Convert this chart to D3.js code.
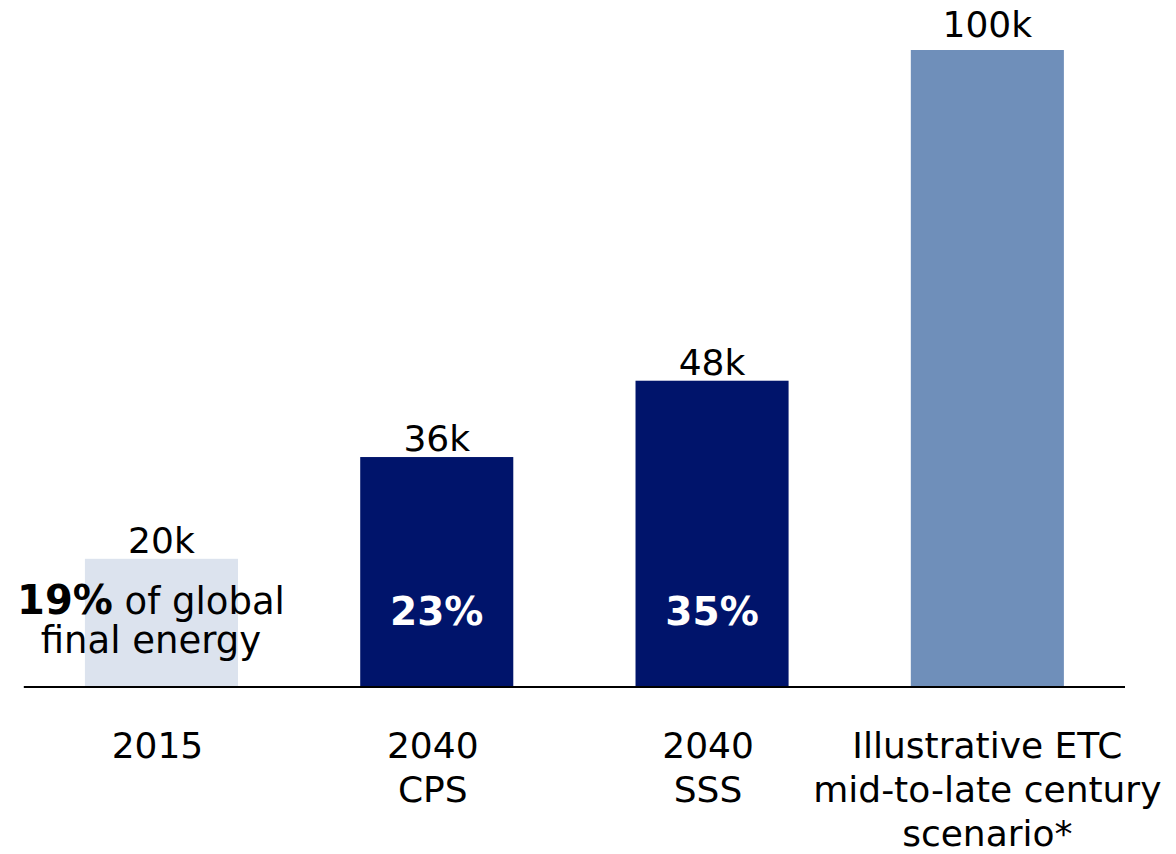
<!DOCTYPE html>
<html>
<head>
<meta charset="utf-8">
<script src="https://cdn.jsdelivr.net/npm/d3@7"></script>
<style>
  body { margin: 0; background: #fff; }
  svg { display: block; font-family: "DejaVu Sans", Verdana, sans-serif; }
</style>
</head>
<body>
<svg width="1176" height="854"></svg>
<script>
// values in thousands
var categories = ['2015', '2040 CPS', '2040 SSS', 'ETC'];
var values = [20, 36, 48, 100];
var valueLabels = ['20k', '36k', '48k', '100k'];
var shareLabels = ['19%', '23%', '35%', null];
var catLines = [
  ['2015'],
  ['2040', 'CPS'],
  ['2040', 'SSS'],
  ['Illustrative ETC', 'mid-to-late century', 'scenario*']
];
var colors = ['#dce3ee', '#00146b', '#00146b', '#6f8fba'];

var svg = d3.select('svg');
var base = 686;

var x = d3.scaleBand()
  .domain(categories)
  .range([23.8, 1125])
  .paddingInner(0.444)
  .paddingOuter(0.222);

var y = d3.scaleLinear()
  .domain([0, 100])
  .range([base, 50]);

var maxVal = d3.max(values);

svg.selectAll('rect.bar')
  .data(values)
  .enter()
  .append('rect')
  .attr('class', 'bar')
  .attr('x', function(d, i) { return x(categories[i]); })
  .attr('y', function(d) { return y(d); })
  .attr('width', x.bandwidth())
  .attr('height', function(d) { return base - y(d); })
  .style('fill', function(d, i) { return colors[i]; });

// baseline
svg.append('line')
  .attr('x1', x.range()[0])
  .attr('x2', x.range()[1])
  .attr('y1', base + 1)
  .attr('y2', base + 1)
  .style('stroke', '#000')
  .style('stroke-width', 2);

// value labels on top
svg.selectAll('text.val')
  .data(values)
  .enter()
  .append('text')
  .attr('class', 'val')
  .attr('x', function(d, i) { return x(categories[i]) + x.bandwidth() / 2; })
  .attr('y', function(d) { return y(d) - (d === maxVal ? 13 : 6); })
  .attr('text-anchor', 'middle')
  .style('font-size', '36px')
  .style('fill', '#000')
  .text(function(d, i) { return valueLabels[i]; });

// share labels inside the dark bars
svg.selectAll('text.share')
  .data([1, 2])
  .enter()
  .append('text')
  .attr('class', 'share')
  .attr('x', function(i) { return x(categories[i]) + x.bandwidth() / 2; })
  .attr('y', 625)
  .attr('text-anchor', 'middle')
  .style('font-size', '39px')
  .style('font-weight', 'bold')
  .style('fill', '#fff')
  .text(function(i) { return shareLabels[i]; });

// 2015 annotation
var note = svg.append('text')
  .attr('text-anchor', 'middle')
  .style('font-size', '37px')
  .style('fill', '#000');
var l1 = note.append('tspan').attr('x', 151).attr('y', 614);
l1.append('tspan').style('font-weight', 'bold').style('font-size', '40px').text(shareLabels[0]);
l1.append('tspan').text(' of global');
note.append('tspan').attr('x', 151).attr('y', 653).text('final energy');

// category labels
catLines.forEach(function(lines, i) {
  var t = svg.append('text')
    .attr('text-anchor', 'middle')
    .style('font-size', '36px')
    .style('fill', '#000');
  lines.forEach(function(s, j) {
    t.append('tspan')
      .attr('x', x(categories[i]) + x.bandwidth() / 2 - (lines.length < 3 ? 4 : 0))
      .attr('y', 758 + j * 44)
      .text(s);
  });
});
</script>
</body>
</html>
